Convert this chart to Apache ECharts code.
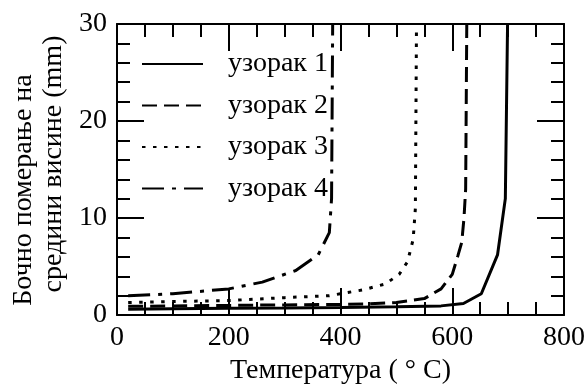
<!DOCTYPE html>
<html>
<head>
<meta charset="utf-8">
<script src="https://cdn.jsdelivr.net/npm/echarts@6/dist/echarts.min.js"></script>
<style>
  html, body { margin: 0; padding: 0; background: #fff; }
  #chart { width: 588px; height: 390px; }
</style>
</head>
<body>
<div id="chart"></div>
<script>
// Lateral mid-height displacement (mm) versus temperature (°C) for four specimens
const seriesNames = ['узорак 1', 'узорак 2', 'узорак 3', 'узорак 4'];

const temp1 = [20, 100, 200, 300, 400, 500, 580, 620, 652, 681, 695, 699];
const disp1 = [0.6, 0.65, 0.7, 0.72, 0.78, 0.85, 0.95, 1.2, 2.2, 6.2, 12, 30];

const temp2 = [20, 100, 200, 300, 400, 450, 500, 550, 580, 600, 610, 617, 621, 624, 626];
const disp2 = [0.9, 0.95, 1.0, 1.05, 1.1, 1.15, 1.3, 1.7, 2.7, 4.2, 6.1, 7.5, 10, 13, 30];

const temp3 = [20, 100, 200, 300, 380, 440, 480, 505, 520, 530, 534, 536];
const disp3 = [1.3, 1.4, 1.5, 1.8, 2.0, 2.6, 3.2, 4.2, 5.5, 7.8, 11, 30];

const temp4 = [20, 100, 200, 260, 320, 360, 380, 384, 386];
const disp4 = [2.0, 2.2, 2.7, 3.4, 4.6, 6.2, 8.5, 12, 30];

const xTicks = [0, 200, 400, 600, 800];
const yTicks = [0, 10, 20, 30];

const FONT = 'Liberation Serif';
const FS = 28;

function pairs(xs, ys) { return xs.map((x, i) => [x, ys[i]]); }

const dashStyles = ['solid', [15, 7], [3.5, 7.5], [22, 8, 4, 8]];
const dataSets = [pairs(temp1, disp1), pairs(temp2, disp2), pairs(temp3, disp3), pairs(temp4, disp4)];

const tickCommon = {
  axisLine: { show: true, onZero: false, lineStyle: { color: '#000', width: 2 } },
  axisTick: { show: true, inside: true, length: 27, lineStyle: { color: '#000', width: 2 } },
  splitLine: { show: false }
};

function xAxisDef(pos, labels) {
  return Object.assign({
    type: 'value', position: pos, min: xTicks[0], max: xTicks[xTicks.length - 1],
    interval: xTicks[1] - xTicks[0],
    minorTick: { show: true, splitNumber: 4, length: 13, lineStyle: { color: '#000', width: 2 } },
    axisLabel: { show: labels, color: '#000', fontFamily: FONT, fontSize: FS, margin: 9 }
  }, tickCommon);
}
function yAxisDef(pos, labels) {
  return Object.assign({
    type: 'value', position: pos, min: yTicks[0], max: yTicks[yTicks.length - 1],
    interval: yTicks[1] - yTicks[0],
    minorTick: { show: true, splitNumber: 5, length: 13, lineStyle: { color: '#000', width: 2 } },
    axisLabel: { show: labels, color: '#000', fontFamily: FONT, fontSize: FS, margin: 10 }
  }, tickCommon);
}

const chart = echarts.init(document.getElementById('chart'), null, { renderer: 'canvas' });

const xBottom = xAxisDef('bottom', true);
xBottom.name = 'Температура ( ° C)';
xBottom.nameLocation = 'middle';
xBottom.nameGap = 38;
xBottom.nameTextStyle = { color: '#000', fontFamily: FONT, fontSize: FS };

chart.setOption({
  animation: false,
  backgroundColor: '#fff',
  grid: { left: 117, right: 22, top: 24, bottom: 74, containLabel: false },
  xAxis: [xBottom, xAxisDef('top', false)],
  yAxis: [yAxisDef('left', true), yAxisDef('right', false)],
  legend: {
    orient: 'vertical', left: 136, top: 45,
    itemWidth: 61, itemHeight: 20, itemGap: 13.5,
    data: seriesNames,
    itemStyle: { color: 'transparent', borderColor: 'transparent', borderWidth: 0, opacity: 0 },
    textStyle: { color: '#000', fontFamily: FONT, fontSize: FS, padding: [0, 0, 0, 20], lineHeight: 20 }
  },
  graphic: [
    { type: 'text', x: 24, y: 190, rotation: Math.PI / 2,
      style: { text: 'Бочно померање на', fontFamily: FONT, fontSize: FS, fill: '#000', align: 'center', verticalAlign: 'middle' } },
    { type: 'text', x: 54, y: 164, rotation: Math.PI / 2,
      style: { text: 'средини висине (mm)', fontFamily: FONT, fontSize: FS, fill: '#000', align: 'center', verticalAlign: 'middle' } }
  ],
  series: seriesNames.map((name, i) => ({
    name: name,
    type: 'line',
    xAxisIndex: 0, yAxisIndex: 0,
    data: dataSets[i],
    symbol: 'none',
    clip: true,
    lineStyle: { color: '#000', width: 3, type: dashStyles[i], cap: 'butt' },
    itemStyle: { color: '#000' }
  }))
});
</script>
</body>
</html>
